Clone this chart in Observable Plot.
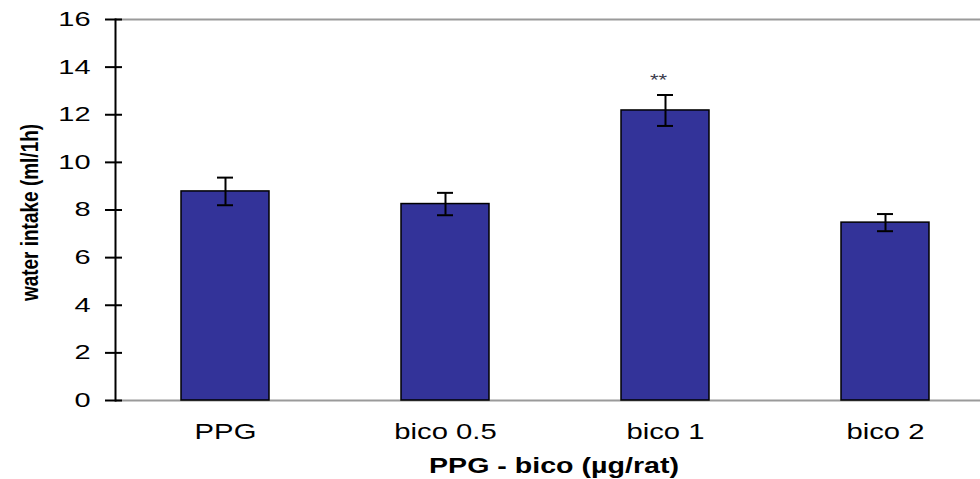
<!DOCTYPE html>
<html>
<head>
<meta charset="utf-8">
<script src="https://cdn.jsdelivr.net/npm/d3@7"></script>
<script src="https://cdn.jsdelivr.net/npm/@observablehq/plot@0.6"></script>
<style>
  body { margin: 0; background: #fff; }
</style>
</head>
<body>
<div id="chart"></div>
<script>
// Water intake after PPG with bicuculline doses (mean ± SEM)
const groups = ["PPG", "bico 0.5", "bico 1", "bico 2"];
const means = [8.78, 8.25, 12.18, 7.47];
const errors = [0.58, 0.47, 0.65, 0.36];
const significance = ["", "", "**", ""];
const yTicks = [0, 2, 4, 6, 8, 10, 12, 14, 16];
const xTitle = "PPG - bico (µg/rat)";
const yTitle = "water intake (ml/1h)";

const data = groups.map((g, i) => ({
  group: g,
  mean: means[i],
  lo: means[i] - errors[i],
  hi: means[i] + errors[i],
  sig: significance[i]
}));

const chart = Plot.plot({
  width: 980,
  height: 479,
  marginLeft: 115,
  marginRight: 0,
  marginTop: 19,
  marginBottom: 79,
  style: { fontFamily: "'Liberation Sans', Arial, sans-serif", background: "#fff", color: "#000" },
  x: { domain: groups, range: [115, 995], paddingInner: 0.6, paddingOuter: 0.3, label: null },
  y: { domain: [0, 16], label: null },
  marks: [
    Plot.ruleY([0, 16], { stroke: "#9a9a9a", strokeWidth: 2 }),
    Plot.barY(data, { x: "group", y: "mean", fill: "#333399", stroke: "#000", strokeWidth: 1.5 }),
    Plot.ruleX(data, { x: "group", y1: "lo", y2: "hi", stroke: "#000", strokeWidth: 2 }),
    Plot.tickY(data, { x: "group", y: "hi", stroke: "#000", strokeWidth: 2, insetLeft: 36, insetRight: 36 }),
    Plot.tickY(data, { x: "group", y: "lo", stroke: "#000", strokeWidth: 2, insetLeft: 36, insetRight: 36 }),
    Plot.text(data.filter(d => d.sig), {
      x: "group", y: "hi", text: "sig", dx: -7, dy: -14,
      fontSize: 17, fill: "#3a3a4a"
    }),
    Plot.frame({ anchor: "left", stroke: "#000", strokeWidth: 2 }),
    Plot.axisY({ ticks: yTicks, tickSize: 17, dx: 7, tickFormat: () => "", strokeWidth: 2 }),
    Plot.axisY({ ticks: yTicks, tickSize: 0, tickPadding: 25, fontSize: 20, label: null }),
    Plot.axisX({ tickSize: 0, tickPadding: 23, fontSize: 22, label: null }),
    Plot.text([xTitle], {
      frameAnchor: "bottom", lineAnchor: "middle", textAnchor: "middle",
      dx: 6, dy: 65, fontSize: 22, fontWeight: "bold"
    }),
    Plot.text([yTitle], {
      frameAnchor: "left", textAnchor: "middle", lineAnchor: "middle",
      dx: -85, dy: 2.5, rotate: -90, fontSize: 19, fontWeight: "bold"
    })
  ]
});

// Widen the lettering horizontally around each label's anchor point
function widen(texts, factor, rotated) {
  texts.forEach(t => {
    let tr = t.getAttribute("transform");
    if (!tr) {
      const x = +(t.getAttribute("x") || 0), y = +(t.getAttribute("y") || 0);
      t.removeAttribute("x");
      t.removeAttribute("y");
      tr = `translate(${x},${y})`;
    }
    t.setAttribute("transform", tr + (rotated ? ` scale(1,${factor})` : ` scale(${factor},1)`));
  });
}
const allTexts = [...chart.querySelectorAll("text")];
const withText = s => allTexts.filter(t => t.textContent === s);
widen(chart.querySelectorAll('[aria-label="y-axis tick label"] text'), 1.45, false);
widen(chart.querySelectorAll('[aria-label="x-axis tick label"] text'), 1.33, false);
widen(withText(xTitle), 1.3, false);
widen(withText("**"), 1.3, false);
widen(withText(yTitle), 1.3, true);

document.getElementById("chart").append(chart);
</script>
</body>
</html>
